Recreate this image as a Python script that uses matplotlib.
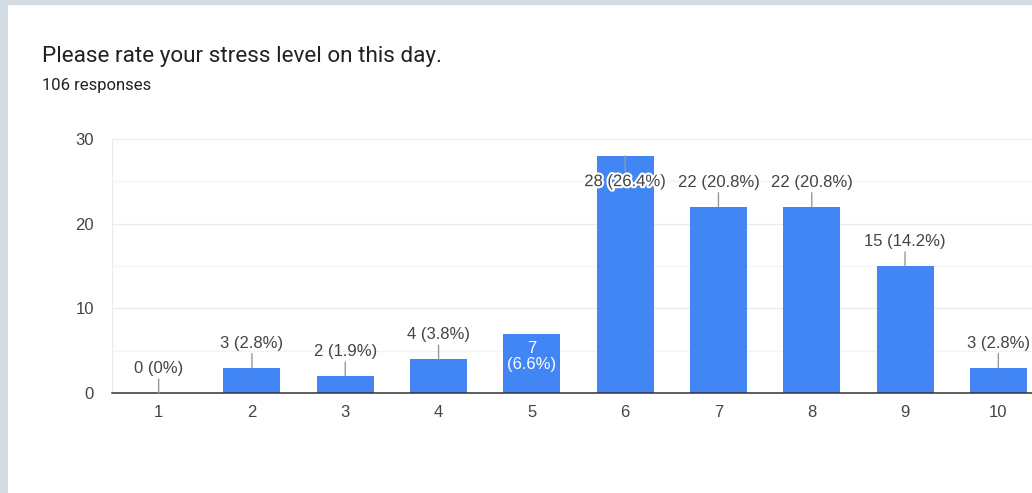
import matplotlib
matplotlib.use("Agg")
import matplotlib.pyplot as plt
import matplotlib.patheffects as pe
from matplotlib.patches import Rectangle
from matplotlib.ticker import MultipleLocator

# data
ratings = [1, 2, 3, 4, 5, 6, 7, 8, 9, 10]
counts = [0, 3, 2, 4, 7, 28, 22, 22, 15, 3]
percents = ["0%", "2.8%", "1.9%", "3.8%", "6.6%", "26.4%", "20.8%", "20.8%", "14.2%", "2.8%"]
title = "Please rate your stress level on this day."
subtitle = "106 responses"
y_ticks = [0, 10, 20, 30]

BAR = "#4285f4"
INK = "#202124"
LABEL = "#444444"
STEM = "#999999"
GRID = "#ebebeb"
MINOR = "#f4f4f4"
FRAME = "#d3dce3"
CHART_FONT = ["Liberation Sans", "DejaVu Sans"]

W, H = 1032, 493
fig = plt.figure(figsize=(W / 100, H / 100), dpi=100)
fig.patch.set_facecolor(FRAME)
# white card
fig.add_artist(Rectangle((8 / W, 0), 1, (H - 5) / H, transform=fig.transFigure,
                         facecolor="white", edgecolor="none", zorder=0))

fig.text(42 / W, (H - 62) / H, title, fontsize=16.2, color=INK,
         family=["Roboto", "DejaVu Sans"], va="baseline", ha="left")
fig.text(42 / W, (H - 90) / H, subtitle, fontsize=12, color=INK,
         family=["Roboto", "DejaVu Sans"], va="baseline", ha="left")

# axes run off the right edge like the screenshot
ax = fig.add_axes([112 / W, (H - 393) / H, (1045 - 112) / W, (393 - 139) / H])
ax.set_facecolor("none")
ax.set_xlim(0.5, 10.5)
ax.set_ylim(0, 30)

ax.yaxis.set_major_locator(MultipleLocator(10))
ax.yaxis.set_minor_locator(MultipleLocator(5))
ax.grid(axis="y", which="major", color=GRID, linewidth=1.0, zorder=0)
ax.grid(axis="y", which="minor", color=MINOR, linewidth=1.0, zorder=0)
ax.axvline(0.5, color=GRID, linewidth=1.0, zorder=0)

for s in ("top", "right", "left"):
    ax.spines[s].set_visible(False)
ax.spines["bottom"].set_color("#333333")
ax.spines["bottom"].set_linewidth(1.1)
ax.spines["bottom"].set_zorder(4)

ax.set_xticks(ratings)
ax.set_xticklabels([str(r) for r in ratings])
ax.set_yticks(y_ticks)
ax.tick_params(axis="both", which="both", length=0, labelsize=12, labelcolor=LABEL)
ax.tick_params(axis="y", pad=13)
ax.tick_params(axis="x", pad=8.5)
for lab in ax.get_xticklabels() + ax.get_yticklabels():
    lab.set_family(CHART_FONT)

ax.bar(ratings, counts, width=0.61, color=BAR, zorder=3)

# annotations: above the bar with a stem, except where Google put them inside
inside_white = {5}
below_halo = {6}
for r, c, p in zip(ratings, counts, percents):
    if r in inside_white:
        ax.annotate(f"{c}\n({p})", xy=(r, c), xytext=(0, -16.5), textcoords="offset points",
                    ha="center", va="center", fontsize=12, color="white",
                    family=CHART_FONT, linespacing=1.1, zorder=5)
    elif r in below_halo:
        ax.annotate(f"{c} ({p})", xy=(r, c), xytext=(0, -18.5), textcoords="offset points",
                    ha="center", va="center", fontsize=12, color=LABEL, family=CHART_FONT,
                    path_effects=[pe.withStroke(linewidth=3, foreground="white")],
                    arrowprops=dict(arrowstyle="-", color=STEM, linewidth=1.0,
                                    shrinkA=0, shrinkB=0),
                    zorder=5, annotation_clip=False)
    else:
        ax.annotate(f"{c} ({p})", xy=(r, c), xytext=(0, 17.5), textcoords="offset points",
                    ha="center", va="center", fontsize=12, color=LABEL, family=CHART_FONT,
                    arrowprops=dict(arrowstyle="-", color=STEM, linewidth=1.0,
                                    shrinkA=0, shrinkB=0),
                    zorder=5, annotation_clip=False)

fig.savefig("out.png", dpi=100, facecolor=fig.get_facecolor())
